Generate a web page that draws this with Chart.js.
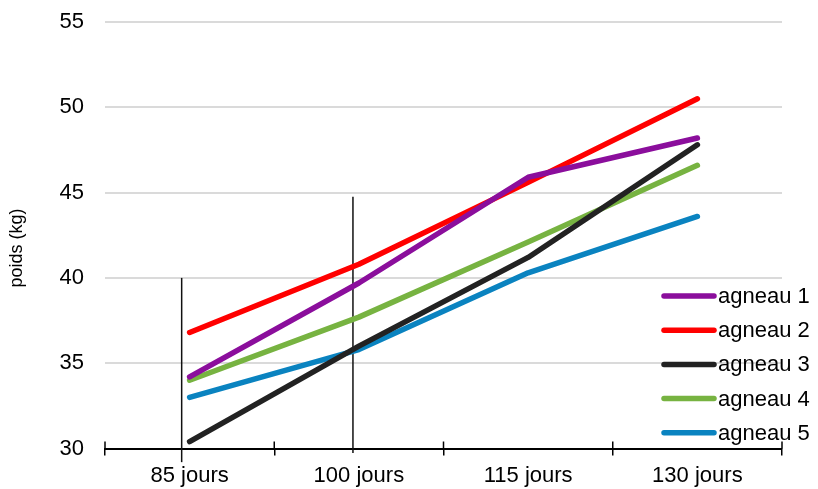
<!DOCTYPE html>
<html>
<head>
<meta charset="utf-8">
<script src="https://cdn.jsdelivr.net/npm/chart.js@4.4.1/dist/chart.umd.min.js"></script>
<style>
  html, body { margin: 0; padding: 0; background: #ffffff; }
  #wrap { width: 818px; height: 489px; }
</style>
</head>
<body>
<div id="wrap"><canvas id="c" width="818" height="489"></canvas></div>
<script>
// ---- data ----
const categories = ['85 jours', '100 jours', '115 jours', '130 jours'];
const seriesNames = ['agneau 1', 'agneau 2', 'agneau 3', 'agneau 4', 'agneau 5'];
const agneau1 = [34.2, 39.7, 45.9, 48.2];
const agneau2 = [36.8, 40.8, 45.6, 50.5];
const agneau3 = [30.4, 36.0, 41.2, 47.8];
const agneau4 = [34.0, 37.7, 42.1, 46.6];
const agneau5 = [33.0, 35.8, 40.3, 43.6];
const yTicks = [30, 35, 40, 45, 50, 55];
const yTitle = 'poids (kg)';
// vertical marker lines in data space: category position, bottom value, top value
const markerAt = [-0.047, 0.965];
const markerFrom = [29.2, 29.74];
const markerTo = [40.0, 44.75];

const colors = ['#8B0E9C', '#FF0000', '#222222', '#77B341', '#0A83C0'];
const FONT = "'Liberation Sans', Arial, sans-serif";

const values = [agneau1, agneau2, agneau3, agneau4, agneau5];
const datasets = values.map((v, i) => ({
  label: seriesNames[i],
  data: v,
  borderColor: colors[i],
  backgroundColor: colors[i],
  borderWidth: 5.5,
  borderCapStyle: 'round',
  borderJoinStyle: 'round',
  pointRadius: 0,
  pointHoverRadius: 0,
  tension: 0,
  fill: false
}));

const extras = {
  id: 'extras',
  beforeDatasetsDraw(chart) {
    const ctx = chart.ctx;
    const xs = chart.scales.x, ys = chart.scales.y;
    ctx.save();
    ctx.strokeStyle = '#111111';
    ctx.lineWidth = 1.5;
    for (let i = 0; i < markerAt.length; i++) {
      const x = xs.getPixelForValue(markerAt[i]);
      ctx.beginPath();
      ctx.moveTo(x, ys.getPixelForValue(markerFrom[i]));
      ctx.lineTo(x, ys.getPixelForValue(markerTo[i]));
      ctx.stroke();
    }
    const axisY = chart.chartArea.bottom;
    ctx.strokeStyle = '#000000';
    ctx.lineWidth = 1.5;
    for (let i = 0; i <= categories.length; i++) {
      const x = xs.getPixelForValue(i - 0.5);
      ctx.beginPath();
      ctx.moveTo(x, axisY - 7);
      ctx.lineTo(x, axisY);
      ctx.stroke();
    }
    ctx.restore();
  },
  afterDraw(chart) {
    const ctx = chart.ctx;
    const ca = chart.chartArea;
    ctx.save();
    ctx.fillStyle = '#000000';
    ctx.font = '18px ' + FONT;
    ctx.textAlign = 'center';
    ctx.textBaseline = 'middle';
    ctx.translate(17, 248);
    ctx.rotate(-Math.PI / 2);
    ctx.fillText(yTitle, 0, 0);
    ctx.restore();
    ctx.save();
    ctx.font = '22px ' + FONT;
    ctx.textAlign = 'left';
    ctx.textBaseline = 'middle';
    chart.data.datasets.forEach((ds, i) => {
      const y = ca.bottom - 152.5 + i * 34.2;
      ctx.strokeStyle = ds.borderColor;
      ctx.lineWidth = 5.5;
      ctx.lineCap = 'round';
      ctx.beginPath();
      ctx.moveTo(ca.right - 118, y);
      ctx.lineTo(ca.right - 68, y);
      ctx.stroke();
      ctx.fillStyle = '#000000';
      ctx.fillText(ds.label, ca.right - 64, y + 1);
    });
    ctx.restore();
  }
};

new Chart(document.getElementById('c'), {
  type: 'line',
  data: { labels: categories, datasets },
  options: {
    responsive: false,
    animation: false,
    events: [],
    layout: { padding: { top: 22, right: 36, bottom: 0, left: 0 } },
    plugins: { legend: { display: false }, tooltip: { enabled: false }, title: { display: false } },
    scales: {
      x: {
        type: 'category',
        offset: true,
        border: { display: true, color: '#000000', width: 2 },
        grid: { display: true, offset: true, drawOnChartArea: false, drawTicks: true, tickLength: 7, color: '#000000', lineWidth: 1.5 },
        ticks: { color: '#000000', font: { family: FONT, size: 22 }, padding: 7, maxRotation: 0, autoSkip: false },
        afterFit(scale) { scale.height = 40.5; scale.paddingLeft = 0; scale.paddingRight = 0; }
      },
      y: {
        min: 30, max: 55,
        afterBuildTicks(scale) { scale.ticks = yTicks.map(v => ({ value: v })); },
        border: { display: false },
        grid: {
          drawTicks: false,
          lineWidth: 2,
          color: (c) => (c.tick && c.tick.value === yTicks[0]) ? 'rgba(0,0,0,0)' : '#DADADA'
        },
        ticks: { color: '#000000', font: { family: FONT, size: 22 }, padding: 21 },
        afterFit(scale) { scale.width = 105; scale.paddingTop = 0; scale.paddingBottom = 0; }
      }
    }
  },
  plugins: [extras]
});
</script>
</body>
</html>
